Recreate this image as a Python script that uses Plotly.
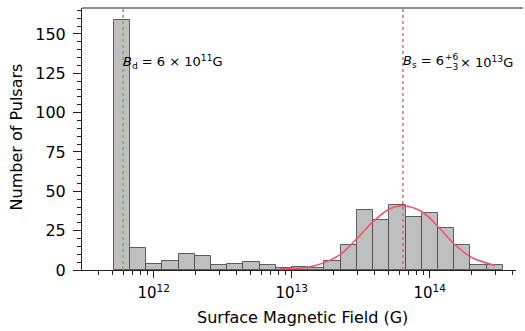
import numpy as np
import plotly.graph_objects as go

# Histogram of surface magnetic fields (log10 bins)
bin_edge_lo, bin_edge_hi, n_bins = 11.71, 14.53, 24
counts = [159, 14, 4, 6, 10, 9, 3, 4, 5, 3, 1,
          2, 1, 6, 16, 38, 32, 41, 34, 36, 27, 16, 3, 3]

# Gaussian fit curve to the high-field population (log10 B, count)
fit_logb = [12.915, 13.125, 13.246, 13.359, 13.478, 13.599, 13.712,
            13.809, 13.949, 14.065, 14.183, 14.301, 14.473]
fit_count = [0.8, 1.9, 5.0, 10.3, 20.5, 31.5, 38.9,
             40.8, 36.7, 27.2, 16.0, 8.1, 2.9]

# Characteristic fields
B_d = 6e11
B_s = 6.4e13
B_s_err = ("+6", "\u22123")

major_ticks = [12, 13, 14]
major_text = ["10<sup>12</sup>", "10<sup>13</sup>", "10<sup>14</sup>"]

edges = np.linspace(bin_edge_lo, bin_edge_hi, n_bins + 1)
centers = 0.5 * (edges[:-1] + edges[1:])
width = edges[1] - edges[0]

minor_vals = [np.log10(k * 10.0 ** n) for n in range(11, 15) for k in range(2, 10)]

FONT = "DejaVu Sans"
x_range = [11.4804, 14.6254]

fig = go.Figure()
fig.add_trace(go.Bar(
    x=centers, y=counts, width=[width] * n_bins,
    marker=dict(color="#bfbfbf", line=dict(color="rgba(70,70,70,0.85)", width=1)),
    showlegend=False,
))
fig.add_trace(go.Scatter(
    x=fit_logb, y=fit_count, mode="lines", line_shape="spline",
    line=dict(color="#ef5468", width=1.5), showlegend=False,
))

ld = np.log10(B_d)
ls = np.log10(B_s)
fig.add_shape(type="line", x0=ld, x1=ld, y0=0, y1=1, yref="paper",
              line=dict(color="#5cc05c", width=1.5, dash="dot"))
fig.add_shape(type="line", x0=ls, x1=ls, y0=0, y1=1, yref="paper",
              line=dict(color="#e05a6a", width=1.4, dash="dot"))
# top spine
fig.add_shape(type="line", xref="paper", yref="paper", x0=0, x1=1.0165, y0=1, y1=1,
              line=dict(color="#222", width=1))

exp_d = int(np.floor(np.log10(B_d)))
exp_s = int(np.floor(np.log10(B_s)))
mant_d = B_d / 10 ** exp_d
mant_s = B_s / 10 ** exp_s

ann_y = 0.794
ann_font = dict(family=FONT, size=13, color="#000")
err_font = dict(family=FONT, size=9, color="#000")
fig.add_annotation(x=ld, y=ann_y, yref="paper", xanchor="left", yanchor="middle",
                   text=f"<i>B</i><sub>d</sub> = {mant_d:.0f} \u00d7 10<sup>{exp_d}</sup>G",
                   showarrow=False, font=ann_font, xshift=-2)
fig.add_annotation(x=ls, y=ann_y, yref="paper", xanchor="left", yanchor="middle",
                   text=f"<i>B</i><sub>s</sub> = {mant_s:.0f}",
                   showarrow=False, font=ann_font, xshift=-2)
fig.add_annotation(x=ls, y=ann_y, yref="paper", xanchor="left", yanchor="middle",
                   text=B_s_err[0], showarrow=False, font=err_font, xshift=40, yshift=5)
fig.add_annotation(x=ls, y=ann_y, yref="paper", xanchor="left", yanchor="middle",
                   text=B_s_err[1], showarrow=False, font=err_font, xshift=40, yshift=-5)
fig.add_annotation(x=ls, y=ann_y, yref="paper", xanchor="left", yanchor="middle",
                   text=f"\u00d7 10<sup>{exp_s}</sup>G", showarrow=False,
                   font=ann_font, xshift=55)

# axis titles
fig.add_annotation(x=0.508, y=-0.183, xref="paper", yref="paper",
                   xanchor="center", yanchor="middle",
                   text="Surface Magnetic Field (G)", showarrow=False,
                   font=dict(family=FONT, size=16, color="#000"))
fig.add_annotation(x=-0.152, y=0.506, xref="paper", yref="paper", textangle=-90,
                   xanchor="center", yanchor="middle",
                   text="Number of Pulsars", showarrow=False,
                   font=dict(family=FONT, size=16, color="#000"))

fig.update_layout(
    width=525, height=331,
    margin=dict(l=82, r=9, t=8, b=61),
    paper_bgcolor="white", plot_bgcolor="white",
    bargap=0,
    font=dict(family=FONT, color="#000"),
    xaxis=dict(
        range=x_range, showgrid=False, zeroline=False,
        showline=True, linecolor="#222", linewidth=1,
        ticks="outside", ticklen=7, tickwidth=1.3, tickcolor="#222",
        tickmode="array", tickvals=major_ticks, ticktext=major_text,
        tickfont=dict(size=15), ticklabelstandoff=2,
        minor=dict(ticks="outside", ticklen=4, tickwidth=1, tickcolor="#222",
                   tickmode="array", tickvals=minor_vals),
    ),
    yaxis=dict(
        range=[0, 166.5], showgrid=False, zeroline=False,
        showline=True, linecolor="#222", linewidth=1,
        ticks="outside", ticklen=8, tickwidth=1.3, tickcolor="#222",
        dtick=25, tick0=0, tickfont=dict(size=16), ticklabelstandoff=4,
        minor=dict(ticks="outside", ticklen=4, tickwidth=1, tickcolor="#222", dtick=5),
    ),
)

fig.write_html("out.html")
